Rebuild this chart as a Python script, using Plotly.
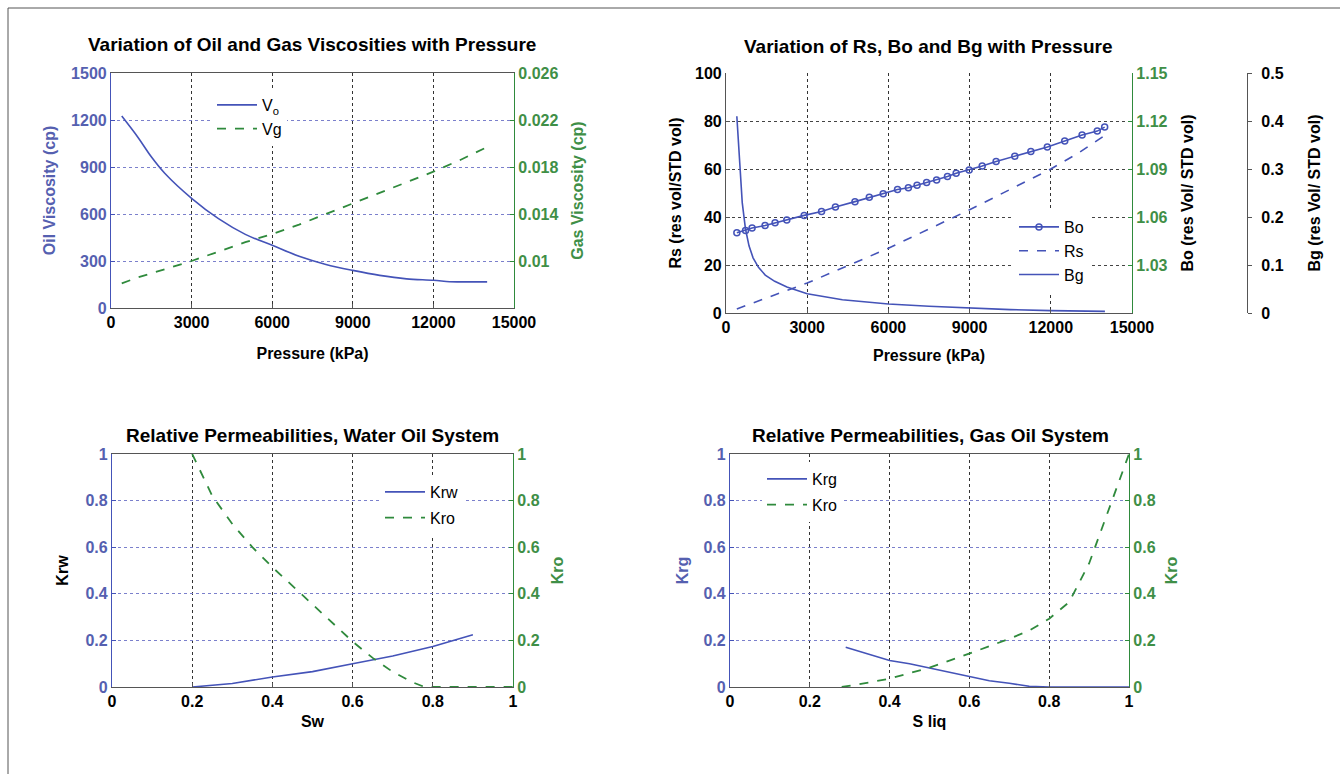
import plotly.graph_objects as go

W, H = 1340, 774
BLUE = "#4453b8"
BLUE_TXT = "#5560b0"
GREEN = "#2f8a3c"
GREEN_TXT = "#3f8f47"
GRID_H = "#7b80cc"
GRID_V = "#333333"
FONT = "Liberation Sans, Arial, sans-serif"
TICK_SIZE = 16
TITLE_SIZE = 19

# ---------------- data ----------------
# Top-left: viscosities vs pressure
p_vo = [400, 1000, 1500, 2000, 3000, 4000, 5000, 6000, 7000, 8000, 9000, 10000, 11000, 12000, 12600, 13000, 14000]
vo = [1225, 1090, 965, 860, 700, 570, 470, 400, 330, 278, 240, 208, 186, 177, 168, 167, 167]
p_vg = [400, 1000, 2000, 3000, 4000, 5000, 6000, 7000, 8000, 9000, 10000, 11000, 12000, 13000, 14000]
vg = [0.0081, 0.0086, 0.0093, 0.0100, 0.0108, 0.0116, 0.0123, 0.0131, 0.0140, 0.0149, 0.0158, 0.0167, 0.0176, 0.0186, 0.0197]

# Top-right: Rs, Bo, Bg vs pressure
p_bo = [401, 722, 963, 1444, 1813, 2246, 2888, 3530, 4043, 4765, 5294, 5808, 6337, 6738, 7059,
        7412, 7781, 8182, 8503, 8984, 9466, 9979, 10669, 11263, 11872, 12514, 13156, 13717, 13990]
bo = [1.0502, 1.0516, 1.0531, 1.0547, 1.0564, 1.0582, 1.0610, 1.0634, 1.0663, 1.0696, 1.0723, 1.0745,
      1.0772, 1.0783, 1.0799, 1.0816, 1.0832, 1.0853, 1.0873, 1.0894, 1.0919, 1.0947, 1.0980, 1.1009,
      1.1038, 1.1075, 1.1112, 1.1137, 1.1162]
p_rs = [400, 1500, 3000, 4500, 6000, 7500, 9000, 10500, 12000, 13000, 14000]
rs = [1.7, 6.2, 12.5, 19.7, 27.0, 35.0, 43.0, 51.5, 60.0, 66.5, 74.0]
p_bg = [400, 500, 600, 720, 850, 1000, 1200, 1450, 1800, 2250, 3000, 4300, 6000, 7500, 9000, 10500, 12000, 14000]
bg = [0.41, 0.31, 0.23, 0.175, 0.14, 0.115, 0.095, 0.079, 0.066, 0.054, 0.040, 0.0275, 0.0186, 0.014,
      0.0100, 0.0070, 0.0050, 0.0034]

# Bottom-left: water-oil relative permeabilities
sw_krw = [0.2, 0.25, 0.3, 0.4, 0.5, 0.6, 0.7, 0.8, 0.9]
krw = [0.0, 0.006, 0.015, 0.043, 0.066, 0.10, 0.133, 0.174, 0.224]
sw_kro = [0.2, 0.25, 0.3, 0.35, 0.4, 0.45, 0.5, 0.55, 0.6, 0.65, 0.7, 0.75, 0.78, 0.8, 0.9, 1.0]
kro_wo = [1.0, 0.82, 0.70, 0.60, 0.514, 0.435, 0.355, 0.275, 0.195, 0.125, 0.065, 0.02, 0.0, 0.0, 0.0, 0.0]

# Bottom-right: gas-oil relative permeabilities
sl_krg = [0.29, 0.35, 0.4, 0.45, 0.5, 0.55, 0.6, 0.65, 0.7, 0.75, 0.8, 0.9, 1.0]
krg = [0.171, 0.14, 0.114, 0.10, 0.082, 0.062, 0.043, 0.027, 0.016, 0.003, 0.0, 0.0, 0.0]
sl_kro = [0.28, 0.3, 0.35, 0.4, 0.45, 0.5, 0.55, 0.6, 0.65, 0.7, 0.75, 0.8, 0.85, 0.9, 0.95, 1.0]
kro_go = [0.0, 0.005, 0.02, 0.036, 0.058, 0.083, 0.113, 0.143, 0.175, 0.207, 0.242, 0.293, 0.364, 0.53, 0.765, 1.0]

# ---------------- helpers ----------------
def px_x(x):
    return x / W

def px_y(y):
    return 1 - y / H

fig = go.Figure()

# Top-left
fig.add_trace(go.Scatter(x=p_vo, y=vo, name="V<sub>o</sub>", mode="lines", line_shape="spline",
                         line=dict(color=BLUE, width=1.6), xaxis="x", yaxis="y",
                         legend="legend", legendgroup="a"))
fig.add_trace(go.Scatter(x=p_vg, y=vg, name="Vg", mode="lines",
                         line=dict(color=GREEN, width=1.8, dash="dash"), xaxis="x", yaxis="y2",
                         legend="legend", legendgroup="b"))
# Top-right
fig.add_trace(go.Scatter(x=p_bo, y=bo, name="Bo", mode="lines+markers",
                         line=dict(color=BLUE, width=1.6),
                         marker=dict(symbol="circle-open", size=6, color=BLUE, line=dict(width=1.5)),
                         xaxis="x2", yaxis="y4", legend="legend2", legendgroup="c"))
fig.add_trace(go.Scatter(x=p_rs, y=rs, name="Rs", mode="lines",
                         line=dict(color=BLUE, width=1.6, dash="dash"), xaxis="x2", yaxis="y3",
                         legend="legend2", legendgroup="d"))
fig.add_trace(go.Scatter(x=p_bg, y=bg, name="Bg", mode="lines",
                         line=dict(color=BLUE, width=1.6), xaxis="x2", yaxis="y5",
                         legend="legend2", legendgroup="e"))
# Bottom-left
fig.add_trace(go.Scatter(x=sw_krw, y=krw, name="Krw", mode="lines",
                         line=dict(color=BLUE, width=1.6), xaxis="x3", yaxis="y6",
                         legend="legend3", legendgroup="f"))
fig.add_trace(go.Scatter(x=sw_kro, y=kro_wo, name="Kro", mode="lines",
                         line=dict(color=GREEN, width=1.8, dash="dash"), xaxis="x3", yaxis="y7",
                         legend="legend3", legendgroup="g"))
# Bottom-right
fig.add_trace(go.Scatter(x=sl_krg, y=krg, name="Krg", mode="lines",
                         line=dict(color=BLUE, width=1.6), xaxis="x4", yaxis="y8",
                         legend="legend4", legendgroup="h"))
fig.add_trace(go.Scatter(x=sl_kro, y=kro_go, name="Kro", mode="lines",
                         line=dict(color=GREEN, width=1.8, dash="dash"), xaxis="x4", yaxis="y9",
                         legend="legend4", legendgroup="i"))

dom_tl_x = [px_x(111), px_x(514)]
dom_tl_y = [px_y(308), px_y(73)]
dom_tr_x = [px_x(726), px_x(1132)]
dom_tr_y = [px_y(313), px_y(73)]
dom_bl_x = [px_x(112), px_x(513)]
dom_bl_y = [px_y(687), px_y(454)]
dom_br_x = [px_x(730), px_x(1129)]
dom_br_y = [px_y(687), px_y(454)]

def xax(domain, anchor, rng, dtick, title, standoff, mirror=True):
    return dict(domain=domain, anchor=anchor, range=rng, dtick=dtick, tick0=0, automargin=False,
                showline=True, mirror=mirror, linecolor="#555555", linewidth=1.2,
                ticks="inside", ticklen=4, tickcolor="#555555",
                showgrid=True, gridcolor=GRID_V, griddash="dot", gridwidth=1,
                zeroline=False, tickformat="d", tickfont=dict(color="black", size=TICK_SIZE),
                title=dict(text=title, standoff=standoff, font=dict(color="black", size=TICK_SIZE)))

def yleft(domain, anchor, rng, dtick, title, tcolor, lcolor, gcolor, titlecolor, standoff):
    return dict(domain=domain, anchor=anchor, range=rng, dtick=dtick, tick0=0, automargin=False,
                showline=True, mirror=False, linecolor=lcolor, linewidth=1.2,
                ticks="inside", ticklen=4, tickcolor=lcolor,
                showgrid=True, gridcolor=gcolor, griddash="dot", gridwidth=1,
                zeroline=False, tickfont=dict(color=tcolor, size=TICK_SIZE),
                title=dict(text=title, standoff=standoff, font=dict(color=titlecolor, size=TICK_SIZE)))

def yright(overlay, anchor, rng, tickvals, ticktext, title, tcolor, lcolor, titlecolor, standoff):
    return dict(overlaying=overlay, anchor=anchor, side="right", range=rng, automargin=False,
                tickmode="array", tickvals=tickvals, ticktext=ticktext,
                showline=True, linecolor=lcolor, linewidth=1.2,
                ticks="inside", ticklen=4, tickcolor=lcolor,
                showgrid=False, zeroline=False, tickfont=dict(color=tcolor, size=TICK_SIZE),
                title=dict(text=title, standoff=standoff, font=dict(color=titlecolor, size=TICK_SIZE)))

unit = [0, 0.2, 0.4, 0.6, 0.8, 1.0]
unit_txt = ["0", "0.2", "0.4", "0.6", "0.8", "1"]

layout = dict(
    width=W, height=H,
    margin=dict(l=0, r=0, t=0, b=0, autoexpand=False),
    paper_bgcolor="white", plot_bgcolor="white",
    font=dict(family=FONT, size=TICK_SIZE, color="black", weight="bold"),
    xaxis=xax(dom_tl_x, "y", [0, 15000], 3000, "Pressure (kPa)", 17),
    yaxis=yleft(dom_tl_y, "x", [0, 1500], 300, "Oil Viscosity (cp)", BLUE_TXT, BLUE, GRID_H, BLUE_TXT, 11),
    yaxis2=yright("y", "x", [0.006, 0.026], [0.01, 0.014, 0.018, 0.022, 0.026],
                  ["0.01", "0.014", "0.018", "0.022", "0.026"], "Gas Viscosity (cp)",
                  GREEN_TXT, GREEN, GREEN_TXT, 14),
    xaxis2=xax(dom_tr_x, "y3", [0, 15000], 3000, "Pressure (kPa)", 14, mirror=False),
    yaxis3=yleft(dom_tr_y, "x2", [0, 100], 20, "Rs (res vol/STD vol)", "black", "#555555", "#444444", "black", 9),
    yaxis4=yright("y3", "x2", [1.0, 1.15], [1.03, 1.06, 1.09, 1.12, 1.15],
                  ["1.03", "1.06", "1.09", "1.12", "1.15"], "Bo (res Vol/ STD vol)",
                  GREEN_TXT, GREEN, "black", 15),
    yaxis5=dict(overlaying="y3", anchor="free", position=px_x(1247), side="right",
                range=[0, 0.5], tickmode="array", tickvals=[0, 0.1, 0.2, 0.3, 0.4, 0.5],
                ticktext=["0", "0.1", "0.2", "0.3", "0.4", "0.5"], automargin=False,
                showline=True, linecolor="#555555", linewidth=1.2,
                ticks="outside", ticklen=4, tickcolor="#555555", ticklabelstandoff=6,
                showgrid=False, zeroline=False, tickfont=dict(color="black", size=TICK_SIZE),
                title=dict(text="Bg (res Vol/ STD vol)", standoff=26,
                           font=dict(color="black", size=TICK_SIZE))),
    xaxis3=dict(xax(dom_bl_x, "y6", [0, 1], 0.2, "Sw", 6), tickmode="array", tickvals=unit, ticktext=unit_txt),
    yaxis6=dict(yleft(dom_bl_y, "x3", [0, 1], 0.2, "Krw", BLUE_TXT, BLUE, GRID_H, "black", 12),
                tickmode="array", tickvals=unit, ticktext=unit_txt),
    yaxis7=yright("y6", "x3", [0, 1], unit, unit_txt, "Kro", GREEN_TXT, GREEN, GREEN_TXT, 13),
    xaxis4=dict(xax(dom_br_x, "y8", [0, 1], 0.2, "S liq", 6), tickmode="array", tickvals=unit, ticktext=unit_txt),
    yaxis8=dict(yleft(dom_br_y, "x4", [0, 1], 0.2, "Krg", BLUE_TXT, BLUE, GRID_H, BLUE_TXT, 10),
                tickmode="array", tickvals=unit, ticktext=unit_txt),
    yaxis9=yright("y8", "x4", [0, 1], unit, unit_txt, "Kro", GREEN_TXT, GREEN, GREEN_TXT, 11),
    showlegend=True,
)

def leg(xpx, ypx, gap):
    return dict(x=px_x(xpx), y=px_y(ypx), xanchor="left", yanchor="top",
                bgcolor="white", borderwidth=0, tracegroupgap=gap,
                font=dict(family=FONT, size=16, color="black", weight="normal"),
                itemwidth=40, itemclick=False, itemdoubleclick=False)

layout["legend"] = leg(212, 88, 0)
layout["legend2"] = leg(1014, 210, 0)
layout["legend3"] = leg(380, 475, 2)
layout["legend4"] = leg(762, 462, 2)

titles = [
    ("Variation of Oil and Gas Viscosities with Pressure", 312, 45),
    ("Variation of Rs, Bo and Bg with Pressure", 928, 47),
    ("Relative Permeabilities, Water Oil System", 312, 435),
    ("Relative Permeabilities, Gas Oil System", 930, 435),
]
layout["annotations"] = [
    dict(text=t, x=px_x(xp), y=px_y(yp), xref="paper", yref="paper",
         xanchor="center", yanchor="middle", showarrow=False,
         font=dict(family=FONT, size=TITLE_SIZE, color="black", weight="bold"))
    for t, xp, yp in titles
]
layout["shapes"] = [
    dict(type="line", xref="paper", yref="paper", x0=px_x(8), x1=px_x(8), y0=px_y(8), y1=0,
         line=dict(color="#555555", width=1)),
    dict(type="line", xref="paper", yref="paper", x0=px_x(8), x1=1, y0=px_y(8), y1=px_y(8),
         line=dict(color="#555555", width=1)),
]

fig.update_layout(**layout)
fig.write_html("out.html", config={"displayModeBar": False},
               post_script="document.body.style.margin='0';document.body.style.overflow='hidden';")
